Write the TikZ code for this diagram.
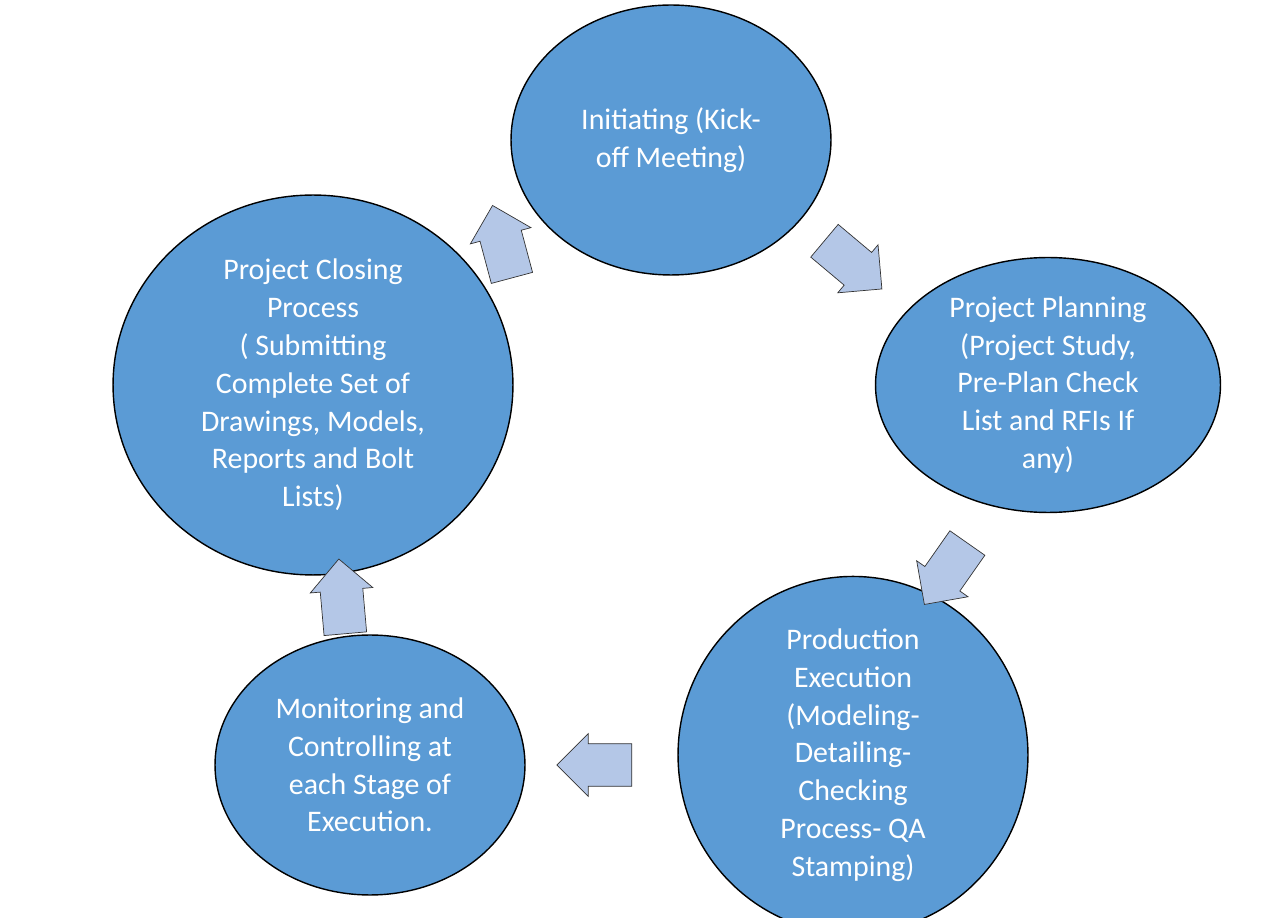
\documentclass[tikz,border=0pt]{standalone}
\usepackage{fontspec}
\setmainfont{Carlito}
\usetikzlibrary{shapes.geometric,shapes.arrows}
\definecolor{stageblue}{HTML}{5B9BD5}
\definecolor{arrowblue}{HTML}{B4C7E7}
\begin{document}
\begin{tikzpicture}[x=0.02cm,y=-0.02cm,
    stage/.style={ellipse,draw=black,thick,fill=stageblue,text=white,align=center,
      font=\fontsize{17}{21.5}\selectfont,inner sep=0pt},
    flow/.style={single arrow,draw=black!80,fill=arrowblue,minimum height=1.5cm,
      inner sep=0.42cm,single arrow head extend=0.2cm,single arrow head indent=0pt}]
 \useasboundingbox (0,0) rectangle (1269,918);

 \node[stage,minimum width=6.4cm,minimum height=5.4cm] (init) at (671,140)
   {Initiating (Kick-\\off Meeting)};
 \node[stage,minimum width=6.9cm,minimum height=5.1cm] (plan) at (1048,385)
   {Project Planning\\(Project Study,\\Pre-Plan Check\\List and RFIs If\\any)};
 \node[stage,minimum width=7cm,minimum height=5.7cm] (prod) at (853,755)
   {Production\\Execution\\(Modeling-\\Detailing-\\Checking\\Process- QA\\Stamping)};
 \node[stage,minimum width=6.2cm,minimum height=5.2cm] (mon) at (370,765)
   {Monitoring and\\Controlling at\\each Stage of\\Execution.};
 \node[stage,minimum width=8cm,minimum height=7.6cm] (close) at (313,385)
   {Project Closing\\Process\\( Submitting\\Complete Set of\\Drawings, Models,\\Reports and Bolt\\Lists)};

 \node[flow,rotate=105] (a1) at (505,252) {};
 \node[flow,rotate=-40] (a2) at (845,258) {};
 \node[flow,rotate=-125] (a3) at (952,565) {};
 \node[flow,rotate=180] (a4) at (605,765) {};
 \node[flow,rotate=95] (a5) at (343,607) {};
\end{tikzpicture}
\end{document}
